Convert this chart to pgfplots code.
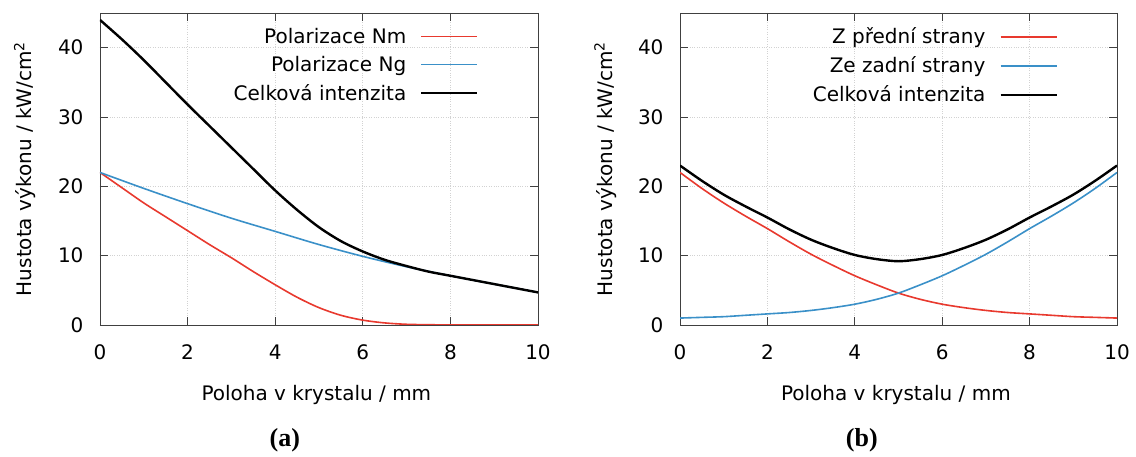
\documentclass[border=0pt]{standalone}
\usepackage{fontspec}
\setmainfont{DejaVu Sans}
\newfontfamily\capfont{Liberation Serif}
\usepackage{pgfplots}
\pgfplotsset{compat=1.18}
\definecolor{cred}{RGB}{232,57,46}
\definecolor{cblue}{RGB}{58,144,200}
\definecolor{cframe}{RGB}{64,64,64}
\pgfplotsset{
  myaxis/.style={
    scale only axis,
    width=438pt, height=312pt,
    xmin=0, xmax=10, ymin=0, ymax=45,
    xtick={0,2,...,10}, ytick={0,10,...,40},
    tick align=inside, major tick length=8pt,
    axis line style={cframe, line width=0.8pt},
    every tick/.style={cframe, line width=0.8pt},
    grid=major,
    major grid style={dotted, gray!35, line width=0.7pt},
    font=\fontsize{20}{24}\selectfont,
    /pgf/number format/assume math mode=true,
    ticklabel style={font=\fontsize{20}{24}\selectfont},
    xticklabel style={yshift=-16pt},
    yticklabel style={xshift=-13pt},
    ylabel={Hustota výkonu / kW/cm\textsuperscript{2}},
    xlabel={Poloha v krystalu / mm},
    ylabel style={at={(axis description cs:-0.171,0.5)}, anchor=center, rotate=0},
    xlabel style={at={(axis description cs:0.494,-0.224)}, anchor=center},
    legend cell align=right,
    legend plot pos=right,
    legend image code/.code={\draw[#1] (0pt,0pt) -- (56pt,0pt);},
    legend style={at={(axis description cs:0.865,0.959)}, anchor=north east,
      draw=none, fill=none, inner sep=0pt,
      font=\fontsize{20}{24}\selectfont,
      nodes={inner sep=2pt}, row sep=7.5pt,
      /tikz/every odd column/.append style={column sep=12pt}},
    clip mode=individual,
  }
}
\begin{document}
\begin{tikzpicture}[x=1pt,y=1pt]
\path[use as bounding box] (0,0) rectangle (1136,457);
\begin{axis}[myaxis, at={(100pt,132pt)}, anchor=south west]
\addplot[cred, line width=1.6pt, smooth] coordinates {
(0,22) (0.5,19.8) (1,17.6) (1.5,15.6) (2,13.6) (2.5,11.6) (3,9.7) (3.5,7.7) (4,5.8) (4.5,4.0) (5,2.5) (5.5,1.4) (6,0.7) (6.5,0.3) (7,0.1) (7.5,0.04) (8,0.01) (9,0) (10,0)};
\addlegendentry{Polarizace Nm}
\addplot[cblue, line width=1.6pt, smooth] coordinates {
(0,22) (1,19.7) (2,17.5) (3,15.4) (4,13.5) (5,11.6) (6,9.9) (7,8.4) (8,7.1) (9,5.9) (10,4.7)};
\addlegendentry{Polarizace Ng}
\addplot[black, line width=2.4pt, smooth] coordinates {
(0,44) (0.5,41.2) (1,38.2) (1.5,35.0) (2,31.8) (2.5,28.7) (3,25.6) (3.5,22.5) (4,19.4) (4.5,16.6) (5,14.1) (5.5,12.1) (6,10.6) (6.5,9.4) (7,8.5) (7.5,7.7) (8,7.1) (9,5.9) (10,4.7)};
\addlegendentry{Celková intenzita}
\node[font=\capfont\bfseries\fontsize{26}{30}\selectfont] at (axis description cs:0.422,-0.369) {(a)};
\end{axis}
\begin{axis}[myaxis, at={(680pt,132pt)}, anchor=south west, width=437pt]
\addplot[cred, line width=1.6pt, smooth] coordinates {
(0,22) (0.5,19.7) (1,17.6) (1.5,15.7) (2,13.9) (2.5,12.0) (3,10.2) (3.5,8.6) (4,7.1) (4.5,5.8) (5,4.6) (5.5,3.7) (6,3.0) (6.5,2.5) (7,2.1) (7.5,1.8) (8,1.6) (8.5,1.4) (9,1.2) (9.5,1.1) (10,1.0)};
\addlegendentry{Z přední strany}
\addplot[cblue, line width=1.6pt, smooth] coordinates {
(0,1.0) (0.5,1.1) (1,1.2) (1.5,1.4) (2,1.6) (2.5,1.8) (3,2.1) (3.5,2.5) (4,3.0) (4.5,3.7) (5,4.6) (5.5,5.8) (6,7.1) (6.5,8.6) (7,10.2) (7.5,12.0) (8,13.9) (8.5,15.7) (9,17.6) (9.5,19.7) (10,22)};
\addlegendentry{Ze zadní strany}
\addplot[black, line width=2.4pt, smooth] coordinates {
(0,23) (0.5,20.8) (1,18.8) (1.5,17.1) (2,15.5) (2.5,13.8) (3,12.3) (3.5,11.1) (4,10.1) (4.5,9.5) (5,9.2) (5.5,9.5) (6,10.1) (6.5,11.1) (7,12.3) (7.5,13.8) (8,15.5) (8.5,17.1) (9,18.8) (9.5,20.8) (10,23)};
\addlegendentry{Celková intenzita}
\node[font=\capfont\bfseries\fontsize{26}{30}\selectfont] at (axis description cs:0.416,-0.369) {(b)};
\end{axis}
\end{tikzpicture}
\end{document}
